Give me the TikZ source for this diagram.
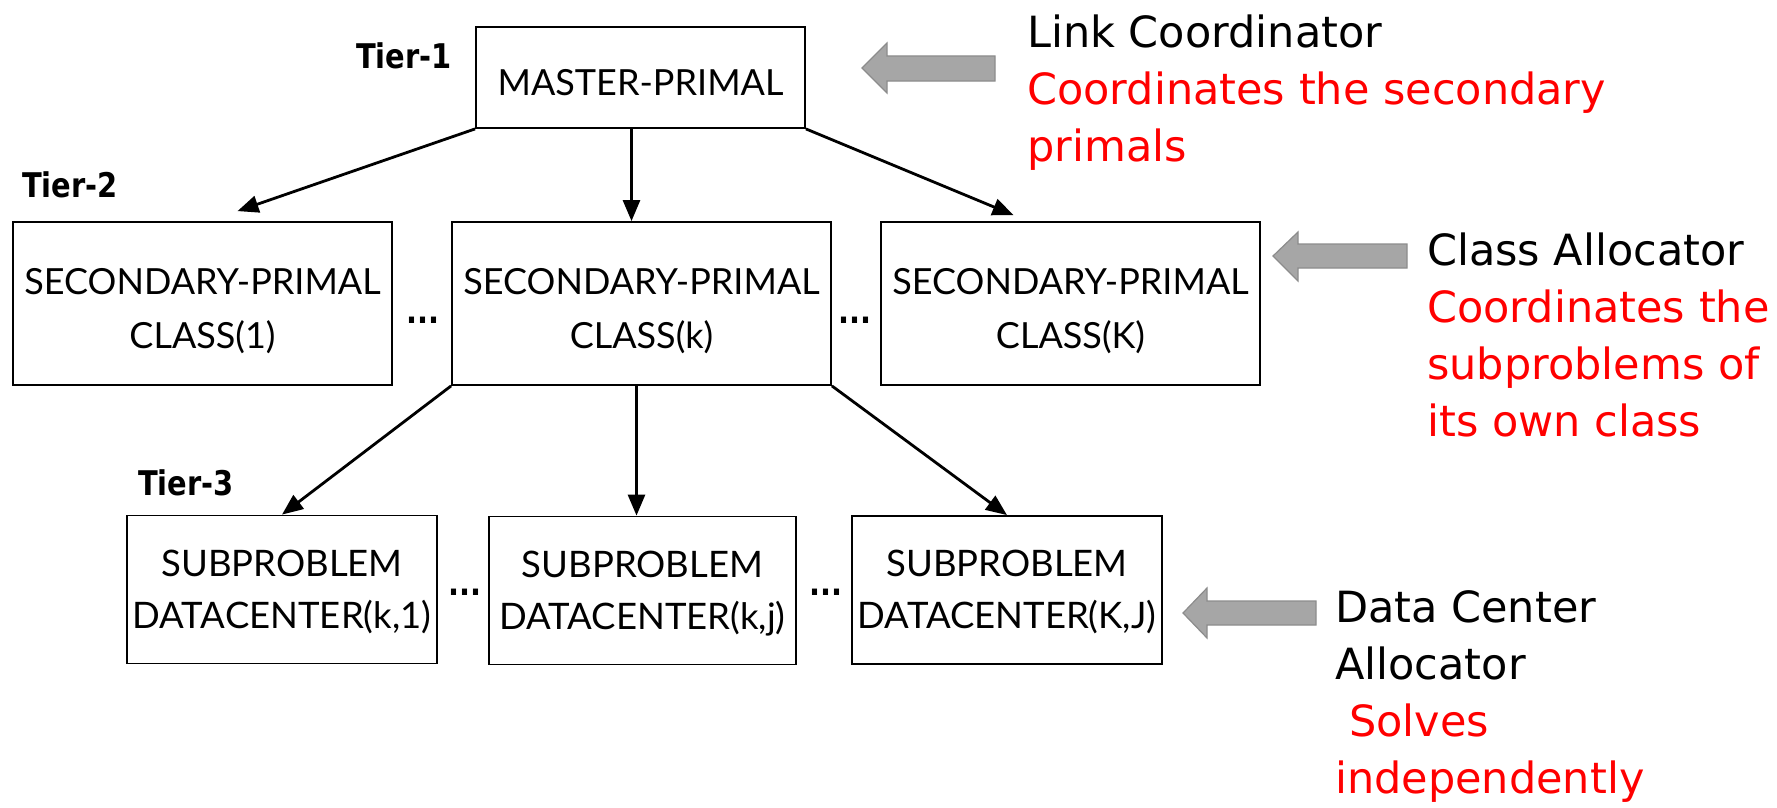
\documentclass[tikz,border=0pt]{standalone}
\usepackage{fontspec}
\setmainfont{Lato}
\newfontfamily\notefont{DejaVu Sans}
\newfontfamily\tierfont{DejaVu Sans}[FakeStretch=0.85]
\usetikzlibrary{arrows.meta}
\definecolor{notered}{RGB}{255,0,0}
\definecolor{pointerfill}{RGB}{166,166,166}
\definecolor{pointeredge}{RGB}{140,140,140}
% two centred lines whose block is balanced by struts
\newcommand\BoxText[4]{\rule{0pt}{#3}#1\\#2\rule[-#4]{0pt}{#4}}
\newcommand\ClassText[2]{\BoxText{#1}{#2}{46pt}{11pt}}
\newcommand\SubText[2]{\BoxText{#1}{#2}{36pt}{11pt}}
\begin{document}
\begin{tikzpicture}[x=1pt,y=-1pt,
  box/.style={draw,line width=1.8pt,inner sep=0pt,align=center},
  topbox/.style={box,minimum width=329pt,minimum height=101pt,
    font=\fontsize{36}{54}\selectfont},
  classbox/.style={box,minimum width=379pt,minimum height=163pt,
    font=\fontsize{36}{54}\selectfont},
  subbox/.style={box,minimum height=148pt,
    font=\fontsize{36.5}{52}\selectfont},
  conn/.style={line width=2.8pt,-{Triangle[length=21pt,width=17pt]}},
  pointer/.style={fill=pointerfill,draw=pointeredge,line width=1.2pt},
  tier/.style={anchor=base west,inner sep=0pt,
    font=\tierfont\bfseries\fontsize{34}{40}\selectfont},
  dots/.style={anchor=base,inner sep=0pt,
    font=\tierfont\bfseries\fontsize{34}{40}\selectfont},
  note/.style={anchor=north west,inner sep=0pt,align=left,
    font=\notefont\fontsize{43}{57}\selectfont}]
\useasboundingbox (0,0) rectangle (1777,808);

% tier 1
\node[topbox] (master) at (640.5,77.5) {\rule{0pt}{36pt}MASTER-PRIMAL};
\node[tier] (t1) at (356,68) {Tier-1};

% tier 2
\node[tier] (t2) at (22,197) {Tier-2};
\node[classbox] (sp1) at (202.5,303.5) {\ClassText{SECONDARY-PRIMAL}{CLASS(1)}};
\node[classbox] (spk) at (641.5,303.5) {\ClassText{SECONDARY-PRIMAL}{CLASS(k)}};
\node[classbox] (spK) at (1070.5,303.5) {\ClassText{SECONDARY-PRIMAL}{CLASS(K)}};
\node[dots] (d21) at (423,323) {...};
\node[dots] (d22) at (855,323) {...};

% tier 3
\node[tier] (t3) at (138,495) {Tier-3};
\node[subbox,minimum width=310pt] (sub1) at (282,589.5)
  {\SubText{SUBPROBLEM}{DATACENTER(k,1)}};
\node[subbox,minimum width=307pt] (subj) at (642.5,590.5)
  {\SubText{SUBPROBLEM}{DATACENTER(k,j)}};
\node[subbox,minimum width=310pt] (subK) at (1007,590)
  {\SubText{SUBPROBLEM}{DATACENTER(K,J)}};
\node[dots] (d31) at (465,595) {...};
\node[dots] (d32) at (826,595) {...};

% connectors
\draw[conn] (master.south west) -- ([xshift=35pt,yshift=10pt]sp1.north);
\draw[conn] ([xshift=-9pt]master.south) -- ([xshift=-10pt]spk.north);
\draw[conn] (master.south east) -- ([xshift=-57pt,yshift=6pt]spK.north);
\draw[conn] (spk.south west) -- (sub1.north);
\draw[conn] ([xshift=-5pt]spk.south) -- ([xshift=-6pt]subj.north);
\draw[conn] (spk.south east) -- (subK.north);

% grey pointers
\path[pointer] (862,68) -- (887,43) -- (887,56) -- (995,56) -- (995,81)
  -- (887,81) -- (887,93) -- cycle;
\path[pointer] (1273,256) -- (1298,232) -- (1298,244) -- (1407,244) -- (1407,268)
  -- (1298,268) -- (1298,281) -- cycle;
\path[pointer] (1183,613) -- (1207,588) -- (1207,601) -- (1316,601) -- (1316,625)
  -- (1207,625) -- (1207,638) -- cycle;

% role notes
\node[note] (n1) at (1027,7)
  {\rule{0pt}{40pt}Link Coordinator\\
   \textcolor{notered}{Coordinates the secondary}\\
   \textcolor{notered}{primals}};
\node[note] (n2) at (1427,225)
  {\rule{0pt}{40pt}Class Allocator\\
   \textcolor{notered}{Coordinates the}\\
   \textcolor{notered}{subproblems of}\\
   \textcolor{notered}{its own class}};
\node[note] (n3) at (1335,582)
  {\rule{0pt}{40pt}Data Center\\
   Allocator\\
   \textcolor{notered}{\hspace*{14pt}Solves}\\
   \textcolor{notered}{independently}};
\end{tikzpicture}
\end{document}
